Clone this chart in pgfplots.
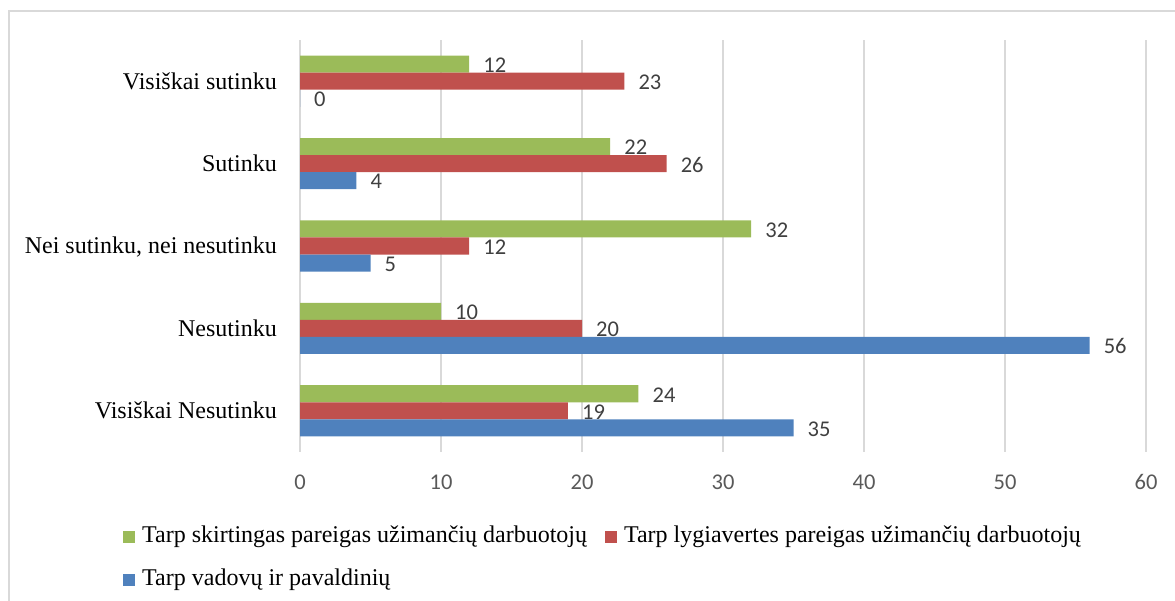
\documentclass[border=0pt]{standalone}
\usepackage{pgfplots}
\pgfplotsset{compat=1.18}
\usepackage{fontspec}
\setmainfont{Liberation Serif}
\newfontfamily\carlito{Carlito}
\definecolor{cgreen}{HTML}{9BBB59}
\definecolor{cred}{HTML}{C0504D}
\definecolor{cblue}{HTML}{4F81BD}
\definecolor{gridc}{HTML}{D9D9D9}
\definecolor{tickc}{HTML}{595959}
\definecolor{labc}{HTML}{404040}
\newcommand\serifsize{\fontsize{24bp}{28bp}\selectfont}
\newcommand\numfont{\carlito\fontsize{22.5bp}{26bp}\selectfont}
\begin{document}
\begin{tikzpicture}
\useasboundingbox (0,0) rectangle (1175bp,601bp);
\draw[gridc, line width=1.2bp] (9bp,-10bp) -- (9bp,590bp) -- (1190bp,590bp);
\begin{axis}[
  at={(300bp,149bp)}, anchor=south west,
  scale only axis, width=846bp, height=412bp,
  xmin=0, xmax=60, ymin=-0.5, ymax=4.5,
  xtick={0,10,...,60},
  ytick={0,1,2,3,4},
  yticklabels={Visiškai Nesutinku, Nesutinku, {Nei sutinku, nei nesutinku}, Sutinku, Visiškai sutinku},
  axis line style={draw=none},
  major tick length=0pt,
  xmajorgrids, major grid style={gridc, line width=1.5bp},
  /pgf/number format/assume math mode=true,
  xticklabel style={font=\numfont, text=tickc, inner sep=0pt, anchor=base, yshift=-38bp},
  yticklabel style={font=\serifsize, text=black, inner sep=0pt, anchor=base east, yshift=-8bp, xshift=-23bp},
  xbar, bar width=0.207,
  nodes near coords,
  every node near coord/.append style={font=\numfont, text=labc, anchor=west, inner sep=0pt, xshift=14bp, yshift=-1bp},
  legend columns=2,
  legend cell align=left,
  legend image code/.code={\fill[#1] (0bp,-6bp) rectangle (12bp,6bp);},
  legend style={draw=none, fill=none, inner sep=0pt, at={(-0.2092,-0.258)}, anchor=west,
    nodes={inner sep=0pt, font=\serifsize, text height=17bp, text depth=5bp},
    /tikz/every odd column/.append style={column sep=7bp},
    /tikz/every even column/.append style={column sep=18bp},
    row sep=21bp},
]
\addplot[fill=cgreen, draw=none, bar shift=0.207] coordinates {(24,0) (10,1) (32,2) (22,3) (12,4)};
\addlegendentry{Tarp skirtingas pareigas užimančių darbuotojų}
\addplot[fill=cred, draw=none, bar shift=0] coordinates {(19,0) (20,1) (12,2) (26,3) (23,4)};
\addlegendentry{Tarp lygiavertes pareigas užimančių darbuotojų}
\addplot[fill=cblue, draw=none, bar shift=-0.207] coordinates {(35,0) (56,1) (5,2) (4,3) (0,4)};
\addlegendentry{Tarp vadovų ir pavaldinių}
\end{axis}
\end{tikzpicture}
\end{document}
